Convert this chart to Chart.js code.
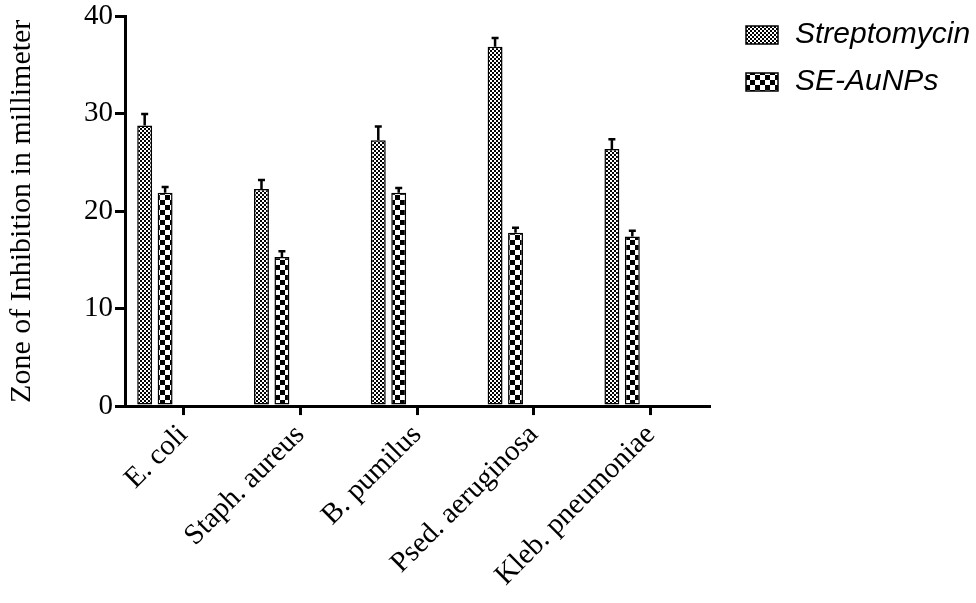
<!DOCTYPE html>
<html>
<head>
<meta charset="utf-8">
<script src="https://cdn.jsdelivr.net/npm/chart.js@4"></script>
<style>
  body { margin: 0; background: #fff; }
  #wrap { width: 976px; height: 603px; }
</style>
</head>
<body>
<div id="wrap"><canvas id="myChart"></canvas></div>
<script>
// data
const bacteria = ['E. coli', 'Staph. aureus', 'B. pumilus', 'Psed. aeruginosa', 'Kleb. pneumoniae'];
const streptomycin = [28.8, 22.3, 27.3, 36.9, 26.4];
const streptomycinErr = [1.2, 0.9, 1.4, 0.9, 1.0];
const aunps = [21.9, 15.3, 21.9, 17.8, 17.4];
const aunpsErr = [0.6, 0.6, 0.5, 0.5, 0.6];
const yTicks = [0, 10, 20, 30, 40];

// checker patterns for the bars
function checker(cell) {
  const c = document.createElement('canvas');
  c.width = c.height = cell * 2;
  const g = c.getContext('2d');
  g.fillStyle = '#fff';
  g.fillRect(0, 0, cell * 2, cell * 2);
  g.fillStyle = '#000';
  g.fillRect(0, 0, cell, cell);
  g.fillRect(cell, cell, cell, cell);
  return g.createPattern(c, 'repeat');
}
const finePattern = checker(2);
const bigPattern = checker(5);

// upper error bars
const errorBars = {
  id: 'errorBars',
  afterDatasetsDraw(chart) {
    const {ctx, scales: {y}} = chart;
    ctx.save();
    ctx.strokeStyle = '#000';
    ctx.lineWidth = 2.5;
    chart.data.datasets.forEach((ds, di) => {
      chart.getDatasetMeta(di).data.forEach((bar, i) => {
        const top = y.getPixelForValue(ds.data[i].y + ds.errors[i]);
        ctx.beginPath();
        ctx.moveTo(bar.x, bar.y);
        ctx.lineTo(bar.x, top);
        ctx.moveTo(bar.x - 3.5, top);
        ctx.lineTo(bar.x + 3.5, top);
        ctx.stroke();
      });
    });
    ctx.restore();
  }
};

// legend to the right of the plot (the built-in one sits too close)
const sideLegend = {
  id: 'sideLegend',
  afterDraw(chart) {
    const {ctx, chartArea} = chart;
    const x = chartArea.right + 37;
    ctx.save();
    ctx.font = 'italic 30px "Liberation Sans"';
    ctx.textBaseline = 'middle';
    chart.data.datasets.forEach((ds, i) => {
      const cy = 35 + i * 47;
      ctx.fillStyle = ds.backgroundColor;
      ctx.fillRect(x, cy - 9, 32, 18);
      ctx.strokeStyle = '#000';
      ctx.lineWidth = 1.5;
      ctx.strokeRect(x, cy - 9, 32, 18);
      ctx.fillStyle = '#000';
      ctx.fillText(ds.label, x + 49, cy);
    });
    ctx.restore();
  }
};

const toPoints = arr => arr.map((v, i) => ({x: i, y: v}));

const serif = 'Liberation Serif';
const barStyle = {
  borderColor: '#000',
  borderWidth: 1.5,
  borderSkipped: false,
  categoryPercentage: 0.35,
  barPercentage: 0.73,
  xAxisID: 'xb'
};

const config = {
  type: 'bar',
  data: {
    datasets: [{
      label: 'Streptomycin',
      data: toPoints(streptomycin),
      errors: streptomycinErr,
      backgroundColor: finePattern,
      ...barStyle
    }, {
      label: 'SE-AuNPs',
      data: toPoints(aunps),
      errors: aunpsErr,
      backgroundColor: bigPattern,
      ...barStyle
    }]
  },
  options: {
    responsive: true,
    maintainAspectRatio: false,
    animation: false,
    layout: { padding: { left: 4, right: 267, top: 0, bottom: 7 } },
    plugins: {
      legend: { display: false },
      tooltip: { enabled: false }
    },
    scales: {
      x: {
        type: 'category',
        labels: bacteria,
        offset: true,
        border: { color: '#000', width: 3 },
        grid: { offset: false, drawOnChartArea: false, color: '#000', lineWidth: 3, tickLength: 9 },
        ticks: { minRotation: 45, maxRotation: 45, color: '#000', font: { family: serif, size: 29 } }
      },
      // hidden axis that places the bar pairs left of each category tick
      xb: {
        type: 'linear',
        display: false,
        offset: false,
        min: -0.256,
        max: 4.744,
        afterBuildTicks: scale => { scale.ticks = bacteria.map((b, i) => ({value: i})); }
      },
      y: {
        min: 0,
        max: 40,
        afterBuildTicks: scale => { scale.ticks = yTicks.map(v => ({value: v})); },
        border: { color: '#000', width: 3 },
        grid: { drawOnChartArea: false, color: '#000', lineWidth: 3, tickLength: 10 },
        ticks: { color: '#000', padding: 2, font: { family: serif, size: 29, lineHeight: 1 } },
        title: {
          display: true,
          text: 'Zone of Inhibition in millimeter',
          color: '#000',
          padding: { top: 0, bottom: 42 },
          font: { family: serif, size: 30 }
        }
      }
    }
  },
  plugins: [errorBars, sideLegend]
};

const myChart = new Chart(document.getElementById('myChart'), config);
</script>
</body>
</html>
